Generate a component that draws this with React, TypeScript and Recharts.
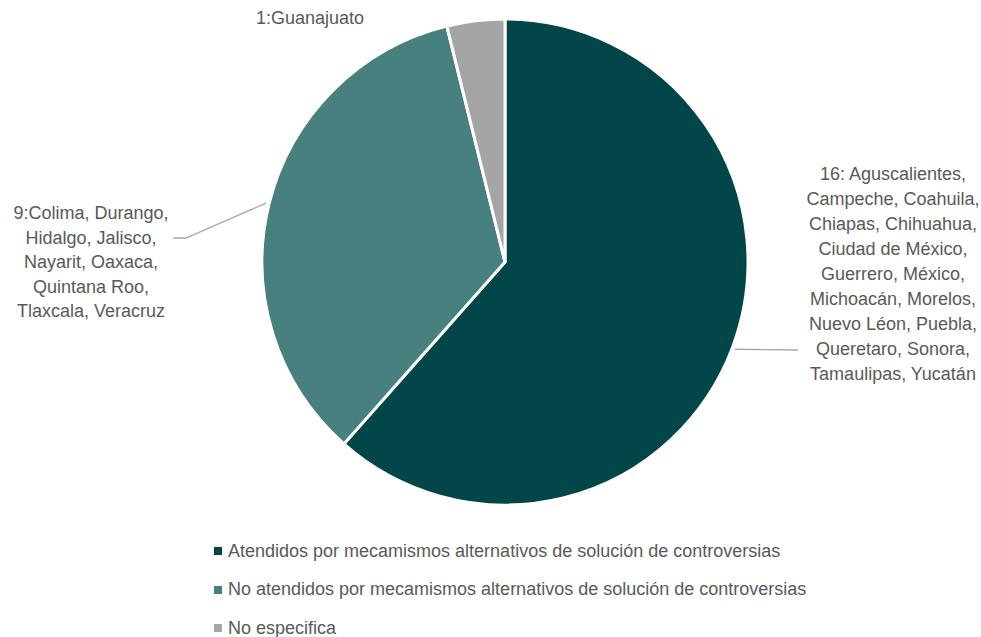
import { PieChart, Pie, Cell, Legend } from 'recharts';

const categories = [
  'Atendidos por mecamismos alternativos de solución de controversias',
  'No atendidos por mecamismos alternativos de solución de controversias',
  'No especifica',
];
const counts = [16, 9, 1];
const labelLines = [
  [
    '16: Aguscalientes,',
    'Campeche, Coahuila,',
    'Chiapas, Chihuahua,',
    'Ciudad de México,',
    'Guerrero, México,',
    'Michoacán, Morelos,',
    'Nuevo Léon, Puebla,',
    'Queretaro, Sonora,',
    'Tamaulipas, Yucatán',
  ],
  ['9:Colima, Durango,', 'Hidalgo, Jalisco,', 'Nayarit, Oaxaca,', 'Quintana Roo,', 'Tlaxcala, Veracruz'],
  ['1:Guanajuato'],
];

const colors = ['#02464A', '#47807E', '#A5A5A5'];
const FONT = '"Liberation Sans", Arial, sans-serif';
const TEXT = '#595959';

const data = categories.map((name, i) => ({ name, value: counts[i] }));

// label placement relative to pie centre
const layout = [
  { line: [[293, 88]], x: 388, y: -82, step: 25 },
  { line: [[-319, -24], [-332, -24]], x: -414, y: -43, step: 24.5 },
  { line: [], x: -195, y: -238, step: 25 },
];

const RAD = Math.PI / 180;

function renderLabel(props: any) {
  const { cx, cy, midAngle, outerRadius, index } = props;
  const cfg = layout[index];
  const sx = cx + (outerRadius + 3) * Math.cos(-midAngle * RAD);
  const sy = cy + (outerRadius + 3) * Math.sin(-midAngle * RAD);
  const pts = [[sx, sy], ...cfg.line.map(([dx, dy]) => [cx + dx, cy + dy])];
  return (
    <g key={`lbl-${index}`}>
      {pts.length > 1 && (
        <polyline
          points={pts.map((p) => p.join(',')).join(' ')}
          fill="none"
          stroke="#A6A6A6"
          strokeWidth={1.3}
        />
      )}
      <text
        x={cx + cfg.x}
        y={cy + cfg.y}
        textAnchor="middle"
        fill={TEXT}
        fontSize={18}
        fontFamily={FONT}
      >
        {labelLines[index].map((t, j) => (
          <tspan key={j} x={cx + cfg.x} y={cy + cfg.y + j * cfg.step}>
            {t}
          </tspan>
        ))}
      </text>
    </g>
  );
}

function LegendList() {
  return (
    <div style={{ fontFamily: FONT, fontSize: 18, color: TEXT, whiteSpace: 'nowrap' }}>
      {categories.map((c, i) => (
        <div key={c} style={{ display: 'flex', alignItems: 'center', height: 38.5 }}>
          <span
            style={{ width: 8, height: 8, background: colors[i], marginRight: 6, display: 'inline-block' }}
          />
          {c}
        </div>
      ))}
    </div>
  );
}

export default function App() {
  return (
    <div style={{ position: 'absolute', left: 0, top: 0, width: 981, height: 637, background: '#fff' }}>
      <PieChart width={981} height={637} margin={{ top: 0, right: 0, bottom: 0, left: 0 }}>
        <Pie
          data={data}
          dataKey="value"
          nameKey="name"
          cx={505}
          cy={262}
          outerRadius={243}
          startAngle={90}
          endAngle={-270}
          stroke="#fff"
          strokeWidth={3}
          label={renderLabel}
          labelLine={false}
          isAnimationActive={false}
        >
          {data.map((d, i) => (
            <Cell key={d.name} fill={colors[i]} />
          ))}
        </Pie>
        <Legend
          content={<LegendList />}
          wrapperStyle={{ position: 'absolute', left: 214, top: 532, width: 'auto' }}
        />
      </PieChart>
    </div>
  );
}
